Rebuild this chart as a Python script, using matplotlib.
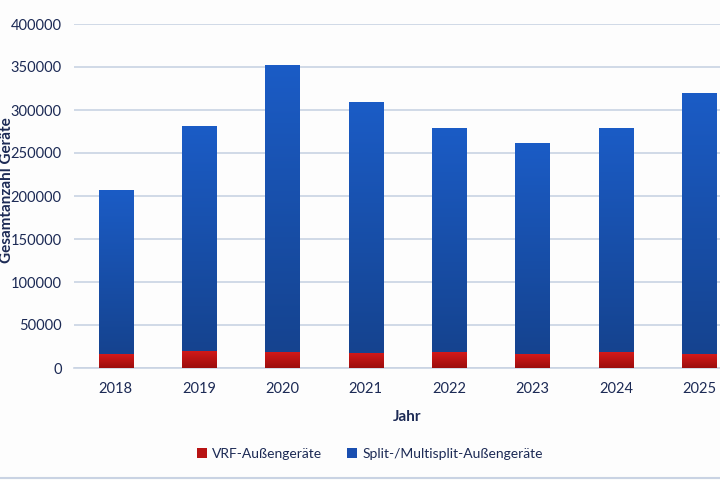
import numpy as np
import matplotlib
matplotlib.use("Agg")
import matplotlib.pyplot as plt
from matplotlib.lines import Line2D
from matplotlib.patches import Patch

# Daten
jahre = ["2018", "2019", "2020", "2021", "2022", "2023", "2024", "2025"]
gesamt = [207000, 281000, 352000, 309000, 279000, 262000, 279000, 320000]
vrf = [16000, 20000, 19000, 17500, 18500, 16000, 18500, 16000]
split = [g - v for g, v in zip(gesamt, vrf)]

yticks = [0, 50000, 100000, 150000, 200000, 250000, 300000, 350000, 400000]

txt = "#1c2a55"
plt.rcParams["font.family"] = ["Lato", "DejaVu Sans"]

fig = plt.figure(figsize=(7.2, 4.8), dpi=100, facecolor="#fdfdfd")
# Achse ragt rechts absichtlich über den Bildrand hinaus (Ausschnitt)
ax = fig.add_axes([74 / 720, 1 - 368 / 480, 667 / 720, 344 / 480])
ax.set_facecolor("#fdfdfd")

x = np.arange(len(jahre))
w = 0.41

def gradient_bars(bars, c_top, c_bottom):
    grad = np.linspace(0, 1, 256).reshape(-1, 1)
    cmap = matplotlib.colors.LinearSegmentedColormap.from_list("g", [c_bottom, c_top])
    for b in bars:
        x0, y0 = b.get_x(), b.get_y()
        x1, y1 = x0 + b.get_width(), y0 + b.get_height()
        im = ax.imshow(grad, extent=[x0, x1, y0, y1], origin="lower",
                       aspect="auto", cmap=cmap, zorder=3)
        im.set_clip_path(b)

b1 = ax.bar(x, vrf, w, color="#c01515", zorder=2, linewidth=0)
b2 = ax.bar(x, split, w, bottom=vrf, color="#1a56b8", zorder=2, linewidth=0)
gradient_bars(b1, "#d41a1a", "#9c0d0d")
gradient_bars(b2, "#1b5cc6", "#15438f")

ax.set_xlim(-0.5, len(jahre) - 0.5)
ax.set_ylim(0, 400000)
ax.set_yticks(yticks)
ax.set_xticks(x)
ax.set_xticklabels(jahre)
ax.yaxis.grid(True, color="#c9d3e3", linewidth=1.2, zorder=0)
ax.set_axisbelow(True)
for s in ["top", "right", "left"]:
    ax.spines[s].set_visible(False)
ax.spines["bottom"].set_color("#c9d3e3")
ax.spines["bottom"].set_linewidth(1.2)
ax.tick_params(axis="both", length=0, labelsize=10.5, colors=txt)
ax.tick_params(axis="y", pad=9)
ax.tick_params(axis="x", pad=10)

ax.set_xlabel("Jahr", fontsize=11, fontweight="bold", color=txt, labelpad=10)
fig.text(7 / 720, 1 - 190 / 480, "Gesamtanzahl Geräte", rotation=90, fontsize=11,
         fontweight="bold", color=txt, ha="center", va="center")

handles = [Patch(facecolor="#b81414", label="VRF-Außengeräte"),
           Patch(facecolor="#1a4fb0", label="Split-/Multisplit-Außengeräte")]
fig.legend(handles=handles, loc="center", bbox_to_anchor=(370 / 720, 1 - 454 / 480),
           ncol=2, frameon=False, fontsize=10, handlelength=0.7, handleheight=0.7,
           handletextpad=0.4, columnspacing=1.8, labelcolor=txt)

fig.add_artist(Line2D([0, 1], [1 - 478 / 480] * 2, color="#c9d3e3", linewidth=1.5))

fig.savefig("out.png", dpi=100, facecolor=fig.get_facecolor())
